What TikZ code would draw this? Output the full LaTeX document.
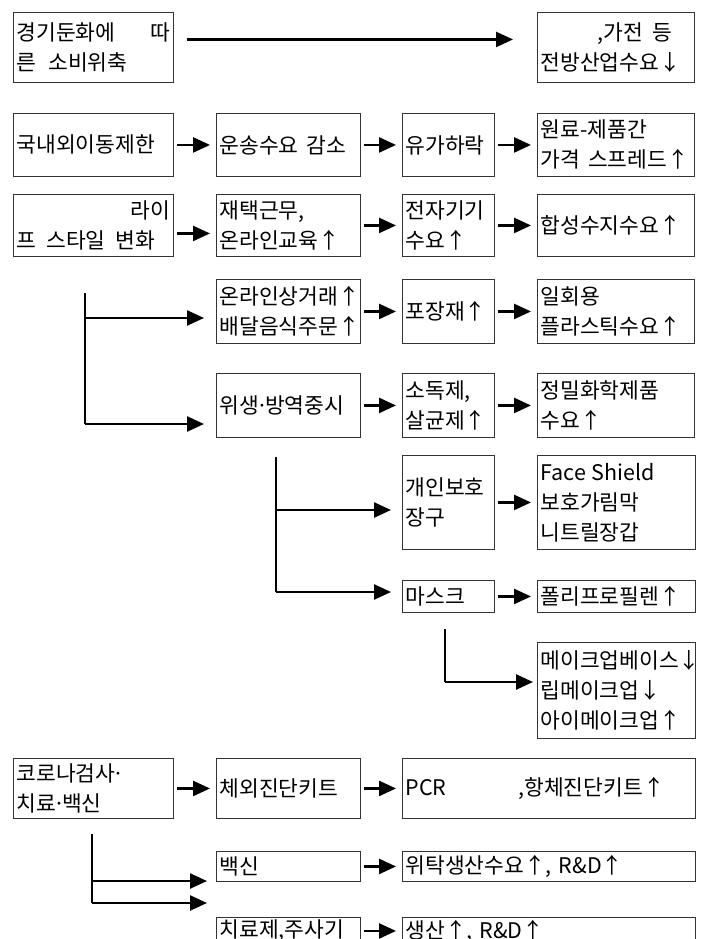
\documentclass[tikz,border=0pt]{standalone}
\usepackage{fontspec}
\setmainfont{Noto Sans CJK KR}
\usetikzlibrary{arrows.meta}
\newcommand\mdot{\kern-3pt·\kern-3pt}
\tikzset{
  box/.style={draw=black!80, line width=0.9pt, anchor=north west, inner xsep=3pt, inner ysep=0pt, align=left, font=\fontsize{21.5}{30}\selectfont},
  arr/.style={line width=2.5pt, -{Triangle[length=17pt,width=15pt]}, shorten <=3pt, shorten >=6pt},
  ln/.style={line width=2.5pt},
}
\begin{document}
\begin{tikzpicture}[x=1pt,y=-1pt]
\useasboundingbox (0,0) rectangle (701,939);
\clip (0,0) rectangle (701,939);
% row 1
\node[box, minimum width=160pt, minimum height=70pt, text width=154pt] (A) at (13,12) {경기둔화에\hfill 따\\른\hspace{12pt}소비위축};
\node[box, minimum width=157pt, minimum height=70pt, text width=151pt] (B) at (537,12) {\hspace*{57pt},가전\hspace{10pt}등\\전방산업수요↓};
% row 2
\node[box, minimum width=160pt, minimum height=63pt, text width=154pt] (r2a) at (13,113) {국내외이동제한};
\node[box, minimum width=144pt, minimum height=63pt, text width=138pt] (r2b) at (216,113) {운송수요\hspace{8pt}감소};
\node[box, minimum width=92pt, minimum height=63pt, text width=86pt] (r2c) at (402,113) {유가하락};
\node[box, minimum width=157pt, minimum height=63pt, text width=151pt] (r2d) at (537,113) {원료-제품간\\가격\hspace{8pt}스프레드↑};
% row 3
\node[box, minimum width=160pt, minimum height=62pt, text width=154pt] (r3a) at (13,194) {\hfill 라이\\프\hspace{10pt}스타일\hspace{10pt}변화};
\node[box, minimum width=144pt, minimum height=62pt, text width=138pt] (r3b) at (216,194) {재택근무,\\온라인교육↑};
\node[box, minimum width=92pt, minimum height=62pt, text width=86pt] (r3c) at (402,194) {전자기기\\수요↑};
\node[box, minimum width=157pt, minimum height=62pt, text width=151pt] (r3d) at (537,194) {합성수지수요↑};
% row 4
\node[box, minimum width=144pt, minimum height=64pt, text width=138pt] (r4b) at (216,279) {온라인상거래↑\\배달음식주문↑};
\node[box, minimum width=92pt, minimum height=64pt, text width=86pt] (r4c) at (402,279) {포장재↑};
\node[box, minimum width=157pt, minimum height=64pt, text width=151pt] (r4d) at (537,279) {일회용\\플라스틱수요↑};
% row 5
\node[box, minimum width=144pt, minimum height=64pt, text width=138pt] (r5b) at (216,373) {위생\mdot 방역중시};
\node[box, minimum width=92pt, minimum height=64pt, text width=86pt] (r5c) at (402,373) {소독제,\\살균제↑};
\node[box, minimum width=157pt, minimum height=64pt, text width=151pt] (r5d) at (537,373) {정밀화학제품\\수요↑};
% row 6
\node[box, minimum width=92pt, minimum height=94pt, text width=86pt] (r6c) at (402,455) {개인보호\\장구};
\node[box, minimum width=158pt, minimum height=94pt, text width=152pt] (r6d) at (537,455) {Face\hspace{6pt}Shield\\보호가림막\\니트릴장갑};
% row 7
\node[box, minimum width=92pt, minimum height=32pt, text width=86pt] (r7c) at (402,580) {마스크};
\node[box, minimum width=158pt, minimum height=32pt, text width=152pt] (r7d) at (537,580) {폴리프로필렌↑};
% row 8
\node[box, minimum width=158pt, minimum height=96pt, text width=152pt] (r8d) at (537,642) {메이크업베이스↓\\립메이크업↓\\아이메이크업↑};
% corona rows
\node[box, minimum width=160pt, minimum height=60pt, text width=154pt] (c1a) at (13,758) {코로나검사\kern-3pt·\\치료\mdot 백신};
\node[box, minimum width=144pt, minimum height=60pt, text width=138pt] (c1b) at (216,758) {체외진단키트};
\node[box, minimum width=293pt, minimum height=60pt, text width=287pt] (c1c) at (402,758) {PCR\hspace{72pt},항체진단키트↑};
\node[box, minimum width=144pt, minimum height=30pt, text width=138pt] (c2b) at (216,851) {백신};
\node[box, minimum width=293pt, minimum height=30pt, text width=287pt] (c2c) at (402,851) {위탁생산수요↑, R\&D↑};
\node[box, minimum width=144pt, minimum height=27pt, text width=138pt] (c3b) at (216,917) {치료제,주사기};
\node[box, minimum width=293pt, minimum height=27pt, text width=287pt] (c3c) at (402,917) {생산↑, R\&D↑};
% arrows
\draw[arr, shorten <=13pt, shorten >=24pt] ([yshift=8pt]A.east) -- ([yshift=8pt]B.west);
\draw[arr] (r2a) -- (r2b);
\draw[arr] (r2b) -- (r2c);
\draw[arr] (r2c) -- (r2d);
\draw[arr] ([yshift=-8pt]r3a.east) -- ([yshift=-8pt]r3b.west);
\draw[arr] (r3b) -- (r3c);
\draw[arr] (r3c) -- (r3d);
\draw[arr] (r4b) -- (r4c);
\draw[arr] (r4c) -- (r4d);
\draw[arr] (r5b) -- (r5c);
\draw[arr] (r5c) -- (r5d);
\draw[arr] (r6c) -- (r6d);
\draw[arr] (r7c) -- (r7d);
\draw[arr] (c1a) -- (c1b);
\draw[arr] (c1b) -- (c1c);
\draw[arr] (c2b) -- (c2c);
\draw[arr] (c3b) -- (c3c);
% branch 1
\coordinate (v1t) at (85,293);
\coordinate (v1m) at (85,318);
\coordinate (v1b) at (85,424);
\draw[ln] (v1t) -- (v1b);
\draw[arr, shorten <=0pt, shorten >=12pt] (v1m) -- (r4b.west |- v1m);
\draw[arr, shorten <=0pt, shorten >=12pt] (v1b) -- (r5b.west |- v1b);
% branch 2
\coordinate (v2t) at (276,457);
\coordinate (v2m) at (276,510);
\coordinate (v2b) at (276,592);
\draw[ln] (v2t) -- (v2b);
\draw[arr, shorten <=0pt, shorten >=11pt] (v2m) -- (r6c.west |- v2m);
\draw[arr, shorten <=0pt, shorten >=11pt] (v2b) -- (r7c.west |- v2b);
% branch 3
\coordinate (v3t) at (445,629);
\coordinate (v3b) at (445,682);
\draw[ln] (v3t) -- (v3b);
\draw[arr, shorten <=0pt, shorten >=4pt] (v3b) -- (r8d.west |- v3b);
% branch 4
\coordinate (v4t) at (92,834);
\coordinate (v4m) at (92,881);
\coordinate (v4b) at (92,903);
\draw[ln] (v4t) -- (v4b);
\draw[arr, shorten <=0pt, shorten >=9pt] (v4m) -- (c2b.west |- v4m);
\draw[arr, shorten <=0pt, shorten >=9pt] (v4b) -- (c2b.west |- v4b);
\end{tikzpicture}
\end{document}
